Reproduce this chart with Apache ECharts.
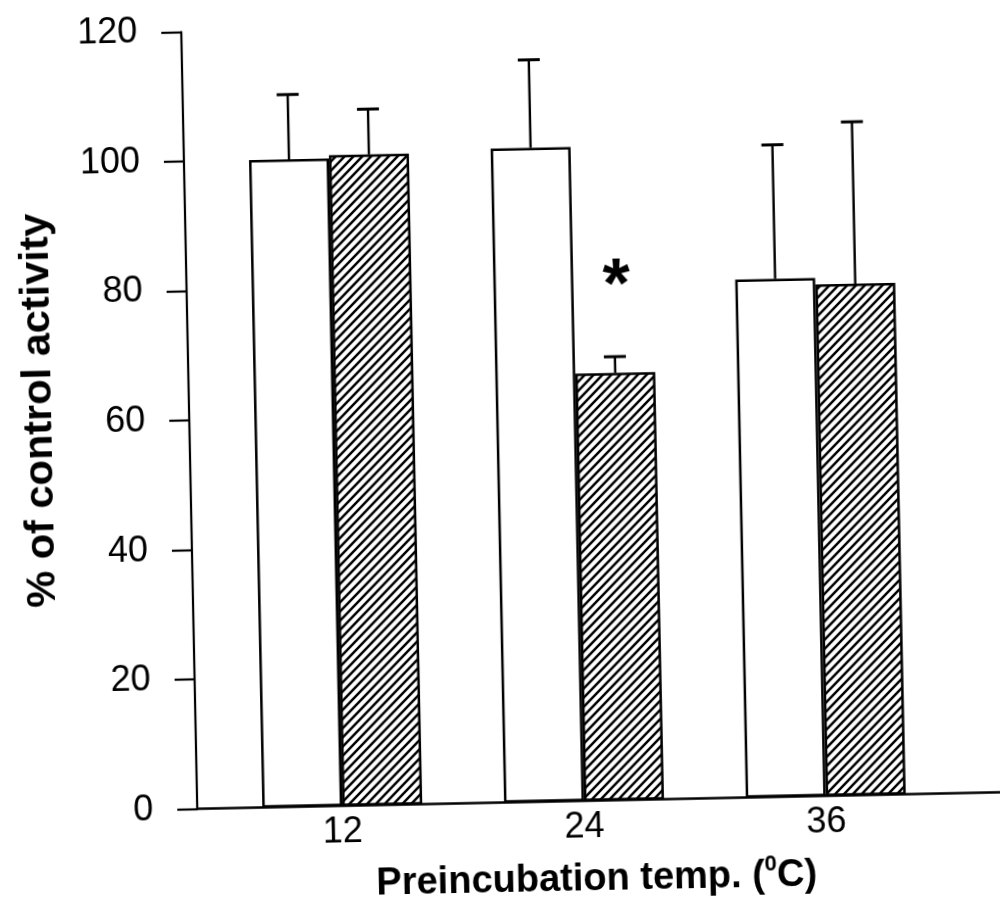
<!DOCTYPE html>
<html>
<head>
<meta charset="utf-8">
<script src="https://cdn.jsdelivr.net/npm/echarts@6/dist/echarts.min.js"></script>
<style>
  html, body { margin: 0; padding: 0; background: #fff; overflow: hidden; }
  /* the printed figure sits slightly askew on the page */
  #chart { width: 1000px; height: 906px; transform: rotate(-1.18deg); transform-origin: 500px 453px; }
</style>
</head>
<body>
<div id="chart"></div>
<script>
// Preincubation temperatures (°C)
const temps = [12, 24, 36];
// Control (open bars): mean and upper error (SD)
const controlMean = [100, 101, 80];
const controlSD = [10, 13.6, 20.7];
// Treated (hatched bars): mean and upper error (SD)
const treatedMean = [100.5, 66, 79];
const treatedSD = [7, 2.5, 25];
// Significance marker per temperature for the treated group
const significant = [false, true, false];
// Axis ticks
const xTickValues = [12, 24, 36];
const yTicks = [0, 20, 40, 60, 80, 100, 120];

const FONT = "'Liberation Sans', Arial, Helvetica, sans-serif";
const BAR_WIDTH = 80;
const CAP_WIDTH = 22;

// diagonal "/" hatch used to fill the treated bars
function hatchPattern(step, lw) {
  const c = document.createElement('canvas');
  c.width = c.height = step;
  const g = c.getContext('2d');
  g.fillStyle = '#fff';
  g.fillRect(0, 0, step, step);
  g.strokeStyle = '#000';
  g.lineWidth = lw;
  g.beginPath();
  g.moveTo(-2, 2); g.lineTo(2, -2);
  g.moveTo(-2, step + 2); g.lineTo(step + 2, -2);
  g.moveTo(step - 2, step + 2); g.lineTo(step + 2, step - 2);
  g.stroke();
  return c;
}

// one-sided error bar drawn above a bar; side = -1 (left bar) or +1 (right bar)
function errorBar(side) {
  return function (params, api) {
    const x = api.value(0);
    const base = api.coord([x, api.value(1)]);
    const top = api.coord([x, api.value(2)]);
    const cx = base[0] + side * BAR_WIDTH / 2;
    return {
      type: 'group',
      children: [
        { type: 'line', shape: { x1: cx, y1: base[1], x2: cx, y2: top[1] },
          style: { stroke: '#000', lineWidth: 2.4 } },
        { type: 'line', shape: { x1: cx - CAP_WIDTH / 2, y1: top[1], x2: cx + CAP_WIDTH / 2, y2: top[1] },
          style: { stroke: '#000', lineWidth: 3 } }
      ]
    };
  };
}

const controlBars = temps.map((t, i) => [t, controlMean[i]]);
const treatedBars = temps.map((t, i) => {
  const item = { value: [t, treatedMean[i]] };
  if (significant[i]) {
    item.label = {
      show: true, position: 'top', distance: 50, offset: [3, 0], formatter: '*',
      fontSize: 70, fontWeight: 'bold', color: '#000', fontFamily: FONT
    };
  }
  return item;
});
const controlErr = temps.map((t, i) => [t, controlMean[i], controlMean[i] + controlSD[i]]);
const treatedErr = temps.map((t, i) => [t, treatedMean[i], treatedMean[i] + treatedSD[i]]);

const chart = echarts.init(document.getElementById('chart'), null, { renderer: 'canvas' });

chart.setOption({
  backgroundColor: '#fff',
  animation: false,
  grid: { left: 190, right: 0, top: 25.5, bottom: 103.3 },
  xAxis: {
    type: 'value',
    min: 4.8,
    max: 45,
    axisLine: { show: true, lineStyle: { color: '#000', width: 2.5 } },
    axisTick: { show: false },
    splitLine: { show: false },
    axisLabel: {
      customValues: xTickValues,
      color: '#000', fontSize: 36, fontFamily: FONT, margin: 8
    }
  },
  yAxis: {
    type: 'value',
    min: yTicks[0],
    max: yTicks[yTicks.length - 1],
    interval: yTicks[1] - yTicks[0],
    axisLine: { show: true, lineStyle: { color: '#000', width: 2.2 } },
    axisTick: { show: true, inside: false, length: 20, lineStyle: { color: '#000', width: 2.2 } },
    splitLine: { show: false },
    axisLabel: { color: '#000', fontSize: 36, fontFamily: FONT, margin: 44, padding: [0, 0, 4, 0] }
  },
  series: [
    {
      name: 'Control',
      type: 'bar',
      data: controlBars,
      barWidth: BAR_WIDTH,
      barGap: '0%',
      itemStyle: { color: '#fff', borderColor: '#000', borderWidth: 2.5 },
      z: 2
    },
    {
      name: 'Treated',
      type: 'bar',
      data: treatedBars,
      barWidth: BAR_WIDTH,
      barGap: '0%',
      itemStyle: { color: { image: hatchPattern(9, 2.5), repeat: 'repeat' }, borderColor: '#000', borderWidth: 2.5 },
      z: 2
    },
    {
      type: 'custom',
      renderItem: errorBar(-1),
      data: controlErr,
      encode: { x: 0, y: [1, 2] },
      z: 3
    },
    {
      type: 'custom',
      renderItem: errorBar(1),
      data: treatedErr,
      encode: { x: 0, y: [1, 2] },
      z: 3
    }
  ],
  graphic: [
    {
      type: 'text',
      x: 41, y: 401,
      rotation: Math.PI / 2,
      style: {
        text: '% of control activity',
        fill: '#000', fontSize: 41.5, fontWeight: 'bold', fontFamily: FONT,
        align: 'center', verticalAlign: 'middle'
      }
    },
    {
      type: 'text',
      x: 588, y: 882,
      style: {
        text: 'Preincubation temp. ({sup|0}C)',
        fill: '#000', fontSize: 38, fontWeight: 'bold', fontFamily: FONT,
        lineHeight: 46,
        align: 'center', verticalAlign: 'middle',
        rich: {
          sup: { fontSize: 22, fontWeight: 'bold', fontFamily: FONT, fill: '#000', verticalAlign: 'top', lineHeight: 22 }
        }
      }
    }
  ]
});
</script>
</body>
</html>
